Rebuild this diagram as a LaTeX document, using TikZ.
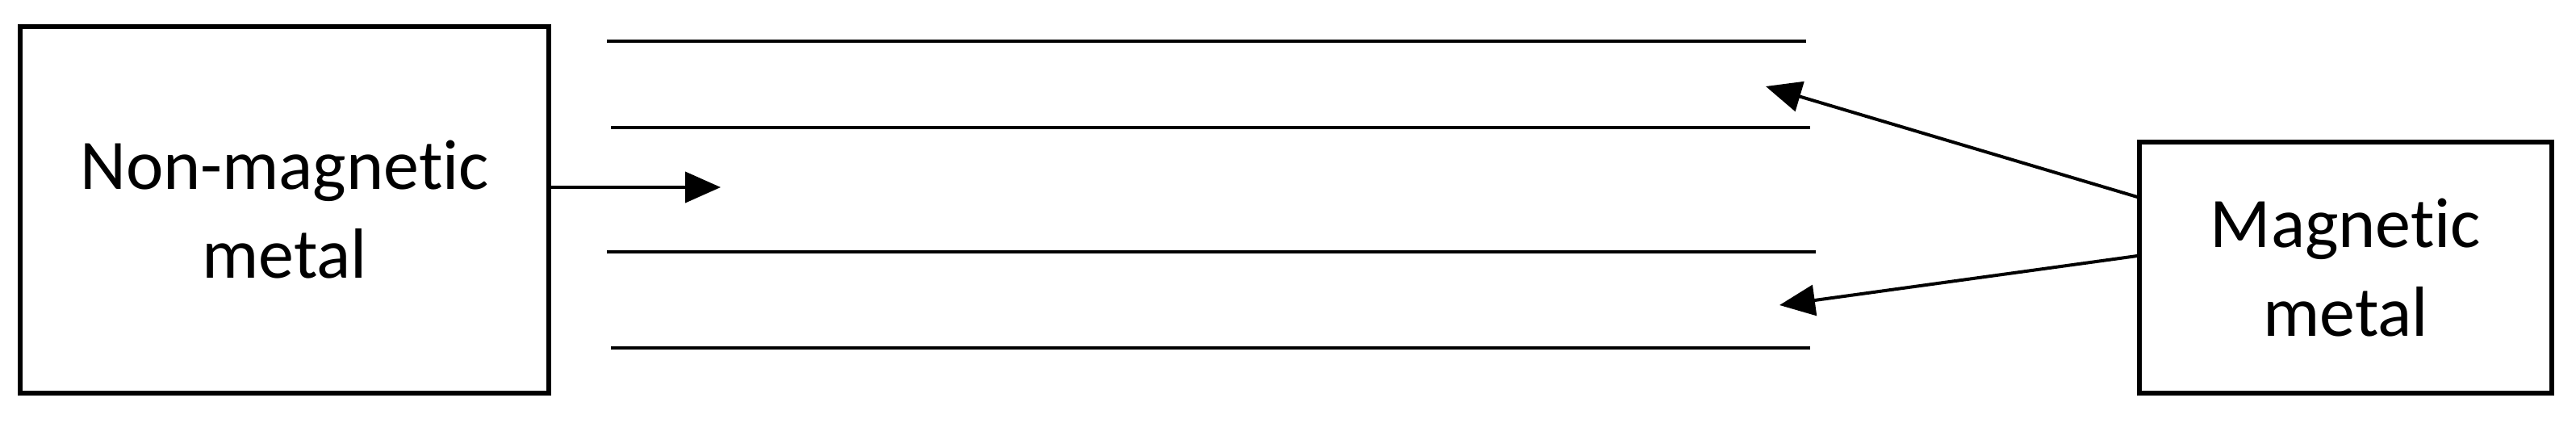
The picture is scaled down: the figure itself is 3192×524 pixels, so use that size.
\documentclass[tikz,border=0pt]{standalone}
\usepackage{fontspec}
\setmainfont{Carlito}[Ligatures=NoCommon]
\usetikzlibrary{arrows.meta}
\tikzset{
  metalbox/.style={draw=black, line width=1.3pt, inner sep=0pt, align=center,
    font=\fontsize{22pt}{27.5pt}\selectfont},
  layer/.style={draw=black, line width=1.15pt},
  arr/.style={draw=black, line width=1pt, -{Triangle[length=11pt,width=9.5pt]}}
}
\begin{document}
\begin{tikzpicture}[x=0.25pt,y=-0.25pt]
\useasboundingbox (0,0) rectangle (3192,524);
\node[metalbox, minimum width=163.75pt, minimum height=113.5pt] (nm) at (352.5,260) {Non-magnetic\\metal};
\node[metalbox, minimum width=127.75pt, minimum height=77.75pt] (mm) at (2906.5,331.5) {Magnetic\\metal};
% layers
\draw[layer] (752,51) -- (2238,51);
\draw[layer] (757,158) -- (2243,158);
\draw[layer] (752,312) -- (2250,312);
\draw[layer] (757,431) -- (2243,431);
% arrow tips
\coordinate (t0) at (893,232);
\coordinate (t1) at (2188,107);
\coordinate (t2) at (2205,378);
\coordinate (s1) at (2651,244);
\coordinate (s2) at (2651,317);
\draw[arr] (nm.east |- t0) -- (t0);
\draw[arr] (mm.west |- s1) -- (t1);
\draw[arr] (mm.west |- s2) -- (t2);
\end{tikzpicture}
\end{document}
